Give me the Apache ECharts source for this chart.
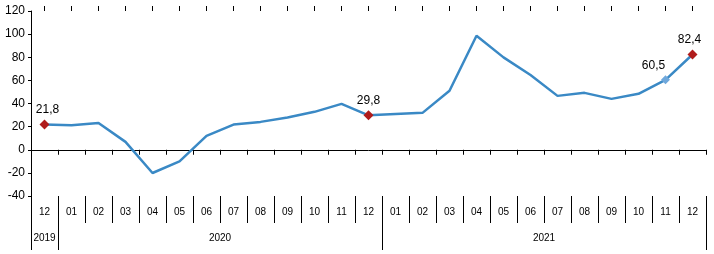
<!DOCTYPE html>
<html><head><meta charset="utf-8">
<script src="https://cdn.jsdelivr.net/npm/echarts@6/dist/echarts.min.js"></script>
<style>html,body{margin:0;padding:0;background:#fff}#c{width:714px;height:254px}</style>
</head><body><div id="c"></div>
<script>
const months = ['12','01','02','03','04','05','06','07','08','09','10','11','12','01','02','03','04','05','06','07','08','09','10','11','12'];
const values = [21.8,21.2,23.2,6.8,-20.1,-10.0,12.0,21.8,24.1,27.9,32.8,39.7,29.8,31.0,31.9,51.0,98.6,79.9,64.6,46.6,49.2,44.0,48.4,60.5,82.4];
const years = ['2019','2020','2021'];
const yearSpans = [1,12,12];
const highlightRed = [0,12,24];
const highlightBlue = [23];
const yTicks = {min:-40, max:120, interval:20};

const bounds=[0]; const mids=[];
yearSpans.forEach((s,i)=>{ mids.push(bounds[i]+s/2); bounds.push(bounds[i]+s); });
const total = bounds[bounds.length-1];
const fmt = v => String(v).replace('.',',');
const font = 'Liberation Sans, Arial, sans-serif';

const seriesData = values.map((v,i)=>{
  if (highlightRed.includes(i)) {
    const off = i===0 ? [3,0] : (i===values.length-1 ? [-3,0] : [0,0]);
    return {value:v, symbol:'diamond', symbolSize:10, itemStyle:{color:'#b01c1c'}, label:{show:true, offset:off}};
  }
  if (highlightBlue.includes(i)) return {value:v, symbol:'diamond', symbolSize:9, itemStyle:{color:'#6fa8dc'}, label:{show:true, offset:[-12,0]}};
  return {value:v, symbol:'none'};
});

const chart = echarts.init(document.getElementById('c'));
chart.setOption({
  animation:false,
  grid:{left:31,right:8,top:11,bottom:58,containLabel:false},
  xAxis:[
    {type:'category',data:months,boundaryGap:true,axisLine:{onZero:true,lineStyle:{color:'#000',width:1}},
     axisTick:{show:true,length:5,alignWithLabel:false,lineStyle:{color:'#000'}},axisLabel:{show:false}},
    {type:'category',data:months,boundaryGap:true,axisLine:{show:false,onZero:true},
     axisTick:{show:true,length:5,alignWithLabel:true,lineStyle:{color:'#000'}},axisLabel:{show:false}},
    {type:'category',data:months,boundaryGap:true,position:'bottom',axisLine:{show:false,onZero:false},
     axisTick:{show:true,length:27,alignWithLabel:false,lineStyle:{color:'#000'}},
     axisLabel:{show:true,interval:0,margin:11,fontSize:10,fontFamily:font,color:'#000'}},
    {type:'value',min:0,max:total,position:'bottom',axisLine:{show:false,onZero:false},splitLine:{show:false},
     axisTick:{show:true,length:54,customValues:bounds,lineStyle:{color:'#000'}},
     axisLabel:{show:true,customValues:mids,margin:37,fontSize:10,fontFamily:font,color:'#000',
       formatter:v=>{const i=mids.findIndex(m=>Math.abs(m-v)<1e-6);return i>=0?years[i]:'';}}}
  ],
  yAxis:{type:'value',min:yTicks.min,max:yTicks.max,interval:yTicks.interval,
    axisLine:{show:true,lineStyle:{color:'#000'}},axisTick:{show:true,length:3,lineStyle:{color:'#000'}},
    splitLine:{show:false},axisLabel:{margin:6,fontSize:12,fontFamily:font,color:'#000'}},
  series:[{type:'line',xAxisIndex:0,data:seriesData,lineStyle:{color:'#3a89c5',width:2.5},itemStyle:{color:'#3a89c5'},
    label:{show:false,position:'top',distance:4,fontSize:12,fontFamily:font,color:'#000',formatter:p=>fmt(p.value)},z:3}]
});
</script></body></html>
